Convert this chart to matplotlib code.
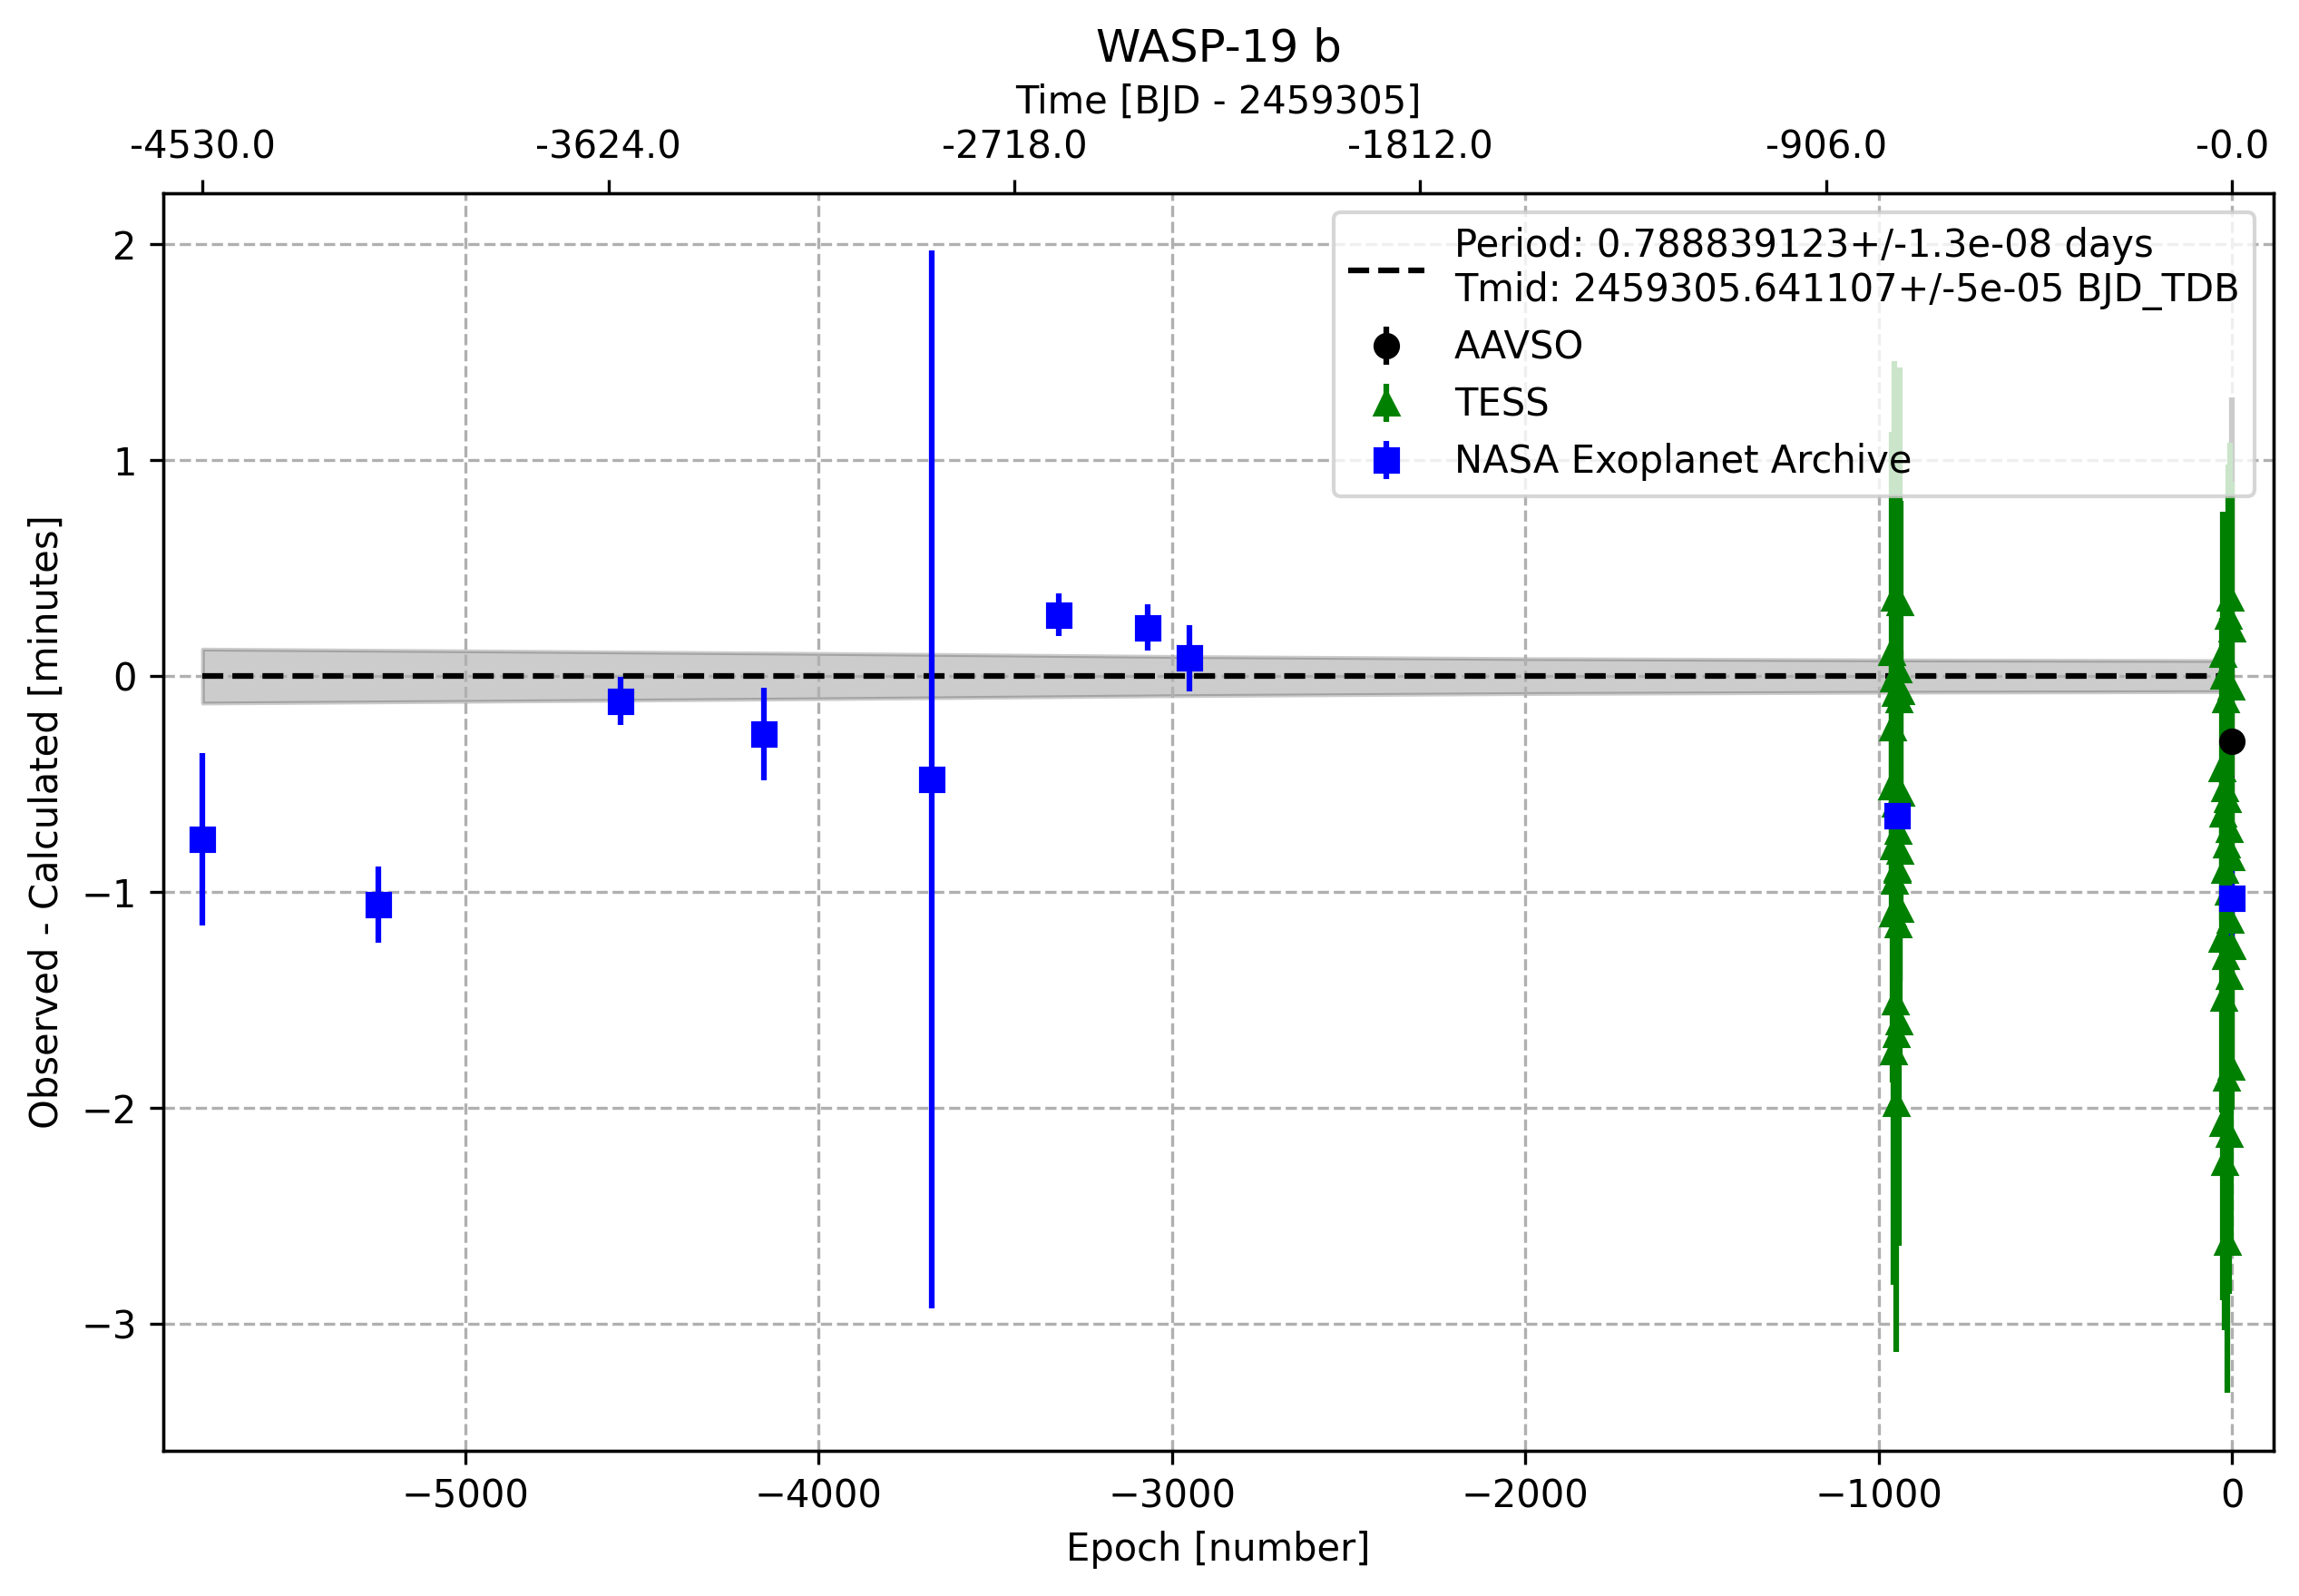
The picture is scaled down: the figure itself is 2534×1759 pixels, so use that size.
import numpy as np
import matplotlib
matplotlib.use("Agg")
import matplotlib.pyplot as plt

# ephemeris text (legend)
period_label = "Period: 0.788839123+/-1.3e-08 days\nTmid: 2459305.641107+/-5e-05 BJD_TDB"

# NASA Exoplanet Archive
nasa_epoch = [-5743, -5246, -4559, -4154, -3680, -3319, -3069, -2951, -949, 0]
nasa_oc = [-0.757, -1.059, -0.115, -0.270, -0.480, 0.284, 0.225, 0.083, -0.647, -1.030]
nasa_err = [0.40, 0.177, 0.113, 0.214, 2.45, 0.10, 0.107, 0.153, 0.05, 0.22]

# AAVSO
aavso_epoch = [0]
aavso_oc = [-0.30]
aavso_err = [1.59]

# TESS, first sector
tess1_epoch = [-963, -962, -961, -960, -959, -958, -957, -956, -955, -954, -953, -952, -951,
               -947, -946, -945, -944, -943, -942, -941, -940, -939, -938, -937, -950, -948]
tess1_oc = [-0.51, 0.11, -1.10, -0.24, -1.74, -0.01, -0.79, 0.36, -0.95, -1.51, -0.59, -0.08, -1.98,
            -0.89, 0.03, -1.15, -0.72, -0.11, -1.60, 0.34, -0.81, -1.08, -0.07, -0.54, -1.66, -0.90]
tess1_err = [0.62, 1.02, 0.78, 0.70, 1.08, 0.66, 0.85, 1.10, 0.74, 0.68, 0.80, 0.72, 1.15,
             0.76, 0.64, 0.90, 0.58, 0.82, 1.04, 1.09, 0.60, 0.70, 0.88, 0.66, 0.75, 0.62]

# TESS, second sector
tess2_epoch = [-29, -28, -27, -26, -25, -24, -23, -22, -21, -20, -19, -18, -17, -16,
               -13, -12, -11, -10, -9, -8, -7, -6, -5, -4, -3, -2, -1, 0]
tess2_oc = [-0.43, -1.22, 0.10, -2.07, -0.64, -1.49, 0.00, -0.90, -2.25, -0.52, -1.30, -0.11, -1.86, -0.78,
            -2.62, -0.57, -1.00, 0.28, -1.39, -0.71, -2.12, 0.36, -1.13, -0.84, -1.81, -0.05, -1.25, 0.22]
tess2_err = [0.70, 0.80, 0.66, 0.82, 0.74, 0.86, 0.62, 0.78, 0.78, 0.68, 0.72, 0.60, 0.90, 0.76,
             0.70, 0.64, 0.88, 0.70, 0.84, 0.66, 0.74, 0.72, 0.80, 0.70, 0.86, 0.62, 0.76, 0.68]

# ephemeris uncertainty band (half width, minutes)
band_epoch = [-5743, -5000, -4000, -3000, -2000, -1000, 0]
band_hw = [0.125, 0.117, 0.105, 0.091, 0.081, 0.075, 0.072]

# top axis labels
time_labels = ["-4530.0", "-3624.0", "-2718.0", "-1812.0", "-906.0", "-0.0"]

tess_epoch = tess1_epoch + tess2_epoch
tess_oc = tess1_oc + tess2_oc
tess_err = tess1_err + tess2_err

fig, ax = plt.subplots(figsize=(2534 / 300, 1759 / 300), dpi=300)
fig.subplots_adjust(left=0.071, right=0.989, top=0.879, bottom=0.091)

be = np.array(band_epoch)
hw = np.array(band_hw)
ax.plot(be, np.zeros_like(hw), "k--", label=period_label)
ax.fill_between(be, -hw, hw, color="black", alpha=0.2)

ax.errorbar(aavso_epoch, aavso_oc, yerr=aavso_err, ls="none", marker="o", color="black", label="AAVSO")
ax.errorbar(tess_epoch, tess_oc, yerr=tess_err, ls="none", marker="^", color="green", label="TESS")
ax.errorbar(nasa_epoch, nasa_oc, yerr=nasa_err, ls="none", marker="s", color="blue",
            label="NASA Exoplanet Archive")

ax.set_xlim(-5854, 118)
ax.set_ylim(-3.588, 2.237)
ax.set_xlabel("Epoch [number]")
ax.set_ylabel("Observed - Calculated [minutes]")
ax.grid(True, ls="--")
ax.legend(loc="upper right")

ax2 = ax.twiny()
ax2.set_xlim(ax.get_xlim())
ax2.set_xticks(np.linspace(nasa_epoch[0], 0, len(time_labels)))
ax2.set_xticklabels(time_labels)
ax2.set_xlabel("Time [BJD - 2459305]")
ax.set_title("WASP-19 b")

fig.savefig("out.png", dpi=300)
